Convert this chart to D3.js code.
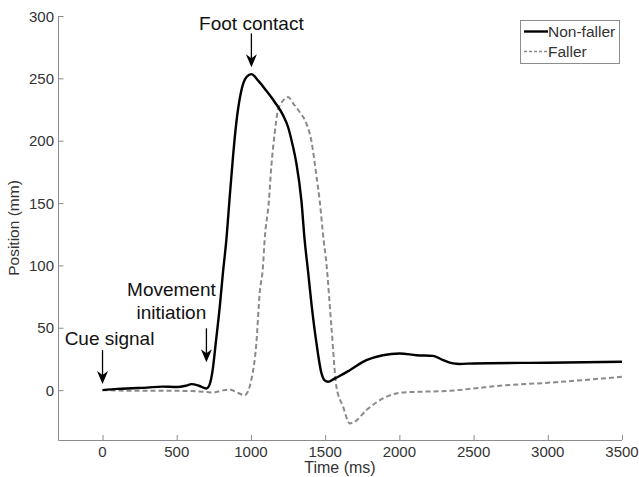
<!DOCTYPE html>
<html>
<head>
<meta charset="utf-8">
<script src="https://cdn.jsdelivr.net/npm/d3@7"></script>
<style>
  body { margin: 0; background: #fff; }
  text { font-family: "Liberation Sans", Arial, sans-serif; }
</style>
</head>
<body>
<svg id="chart" width="639" height="477"></svg>
<script>
// values
var nonFallerTime = [0, 100, 200, 300, 400, 500, 560, 600, 650, 700, 720, 742, 765, 790, 812, 834, 857, 879, 901, 935, 970, 1003, 1050, 1104, 1160, 1216, 1250, 1280, 1306, 1340, 1362, 1385, 1407, 1441, 1475, 1495, 1520, 1560, 1600, 1666, 1778, 1888, 2003, 2115, 2227, 2295, 2362, 2407, 2500, 3000, 3500];
var nonFallerPos = [0, 1, 1.5, 2, 2.8, 2.5, 3.5, 4.8, 3.5, 1.3, 4, 16, 40, 67, 95, 120, 155, 187, 214, 240, 251, 253.4, 248, 240, 231, 220.5, 211, 197, 182, 152, 120, 95, 70, 38, 13.6, 8, 6.7, 9, 11.5, 16, 24, 28, 29.4, 28, 27.5, 24, 21.4, 21, 21.4, 22, 22.7];

var fallerTime = [0, 200, 400, 600, 700, 744, 800, 856, 900, 957, 980, 1002, 1036, 1059, 1081, 1092, 1121, 1137, 1160, 1182, 1215, 1250, 1290, 1328, 1373, 1407, 1441, 1463, 1490, 1508, 1542, 1576, 1620, 1666, 1699, 1778, 1890, 2003, 2070, 2340, 2500, 2677, 3000, 3500];
var fallerPos = [0, -0.5, -0.5, -0.8, -1.5, -2, -0.5, 0.5, -1.5, -4, -1, 8, 37, 78, 99, 120, 152, 179, 206, 224.5, 232, 235, 229, 223, 214, 200, 172, 152, 120, 102, 51, 2.6, -13, -26.7, -25.4, -16, -6.7, -2.1, -1.6, -0.5, 1.3, 3.5, 5.9, 10.7];

var xTicks = [0, 500, 1000, 1500, 2000, 2500, 3000, 3500];
var yTicks = [0, 50, 100, 150, 200, 250, 300];

// annotations: label lines, time and value the arrow points at
var annotations = [
  { lines: ["Cue signal"], t: 0, v: 0 },
  { lines: ["Movement", "initiation"], t: 700, v: 17.5 },
  { lines: ["Foot contact"], t: 1003, v: 254 }
];
// per annotation: text x shift and gap between text and arrow
var annotShift = [7, -35, 0];
var annotGap = [5, 9, 3];

var svg = d3.select("#chart");

var x = d3.scaleLinear().domain([-300, 3500]).range([58, 622]);
var y = d3.scaleLinear().domain([-40, 300]).range([440, 16]);

var axisColor = "#8c8c8c";
var textColor = "#333";

// bottom axis (ticks pointing inward, matlab style)
var xAxis = svg.append("g")
  .attr("transform", "translate(0,440)")
  .call(d3.axisTop(x).tickValues(xTicks).tickSize(5).tickSizeOuter(0).tickFormat(""));
xAxis.select(".domain").attr("stroke", axisColor).attr("d", "M58.5,0.5H622");
xAxis.selectAll(".tick line").attr("stroke", axisColor);

svg.append("g").selectAll("text")
  .data(xTicks)
  .enter().append("text")
  .attr("x", function(d) { return x(d); })
  .attr("y", 457)
  .attr("text-anchor", "middle")
  .attr("font-size", 15)
  .attr("fill", textColor)
  .text(function(d) { return d; });

// left axis
var yAxis = svg.append("g")
  .attr("transform", "translate(58.5,0)")
  .call(d3.axisRight(y).tickValues(yTicks).tickSize(5).tickSizeOuter(0).tickFormat(""));
yAxis.select(".domain").attr("stroke", axisColor).attr("d", "M0,16V440.5");
yAxis.selectAll(".tick line").attr("stroke", axisColor);

svg.append("g").selectAll("text")
  .data(yTicks)
  .enter().append("text")
  .attr("x", 54)
  .attr("y", function(d) { return y(d) + 5.5; })
  .attr("text-anchor", "end")
  .attr("font-size", 15)
  .attr("fill", textColor)
  .text(function(d) { return d; });

// axis titles
svg.append("text")
  .attr("x", 340)
  .attr("y", 473)
  .attr("text-anchor", "middle")
  .attr("font-size", 16)
  .attr("fill", textColor)
  .text("Time (ms)");

svg.append("text")
  .attr("transform", "translate(19,228) rotate(-90)")
  .attr("text-anchor", "middle")
  .attr("font-size", 15.5)
  .attr("fill", textColor)
  .text("Position (mm)");

// the two curves
var line = d3.line()
  .x(function(d) { return x(d[0]); })
  .y(function(d) { return y(d[1]); })
  .curve(d3.curveMonotoneX);

svg.append("path")
  .datum(d3.zip(fallerTime, fallerPos))
  .attr("d", line)
  .attr("fill", "none")
  .attr("stroke", "#8a8a8a")
  .attr("stroke-width", 2)
  .attr("stroke-dasharray", "5,3");

svg.append("path")
  .datum(d3.zip(nonFallerTime, nonFallerPos))
  .attr("d", line)
  .attr("fill", "none")
  .attr("stroke", "#000")
  .attr("stroke-width", 2.4);

// arrows + labels
annotations.forEach(function(a, k) {
  var ax = x(a.t), tip = y(a.v) - 6;
  var top = tip - 34;
  svg.append("line")
    .attr("x1", ax).attr("x2", ax)
    .attr("y1", top).attr("y2", tip - 4)
    .attr("stroke", "#000").attr("stroke-width", 1.3);
  svg.append("path")
    .attr("d", "M" + ax + "," + tip + "L" + (ax - 5.5) + "," + (tip - 13) +
      "L" + ax + "," + (tip - 9) + "L" + (ax + 5.5) + "," + (tip - 13) + "Z")
    .attr("fill", "#000");
  var n = a.lines.length;
  a.lines.forEach(function(s, i) {
    svg.append("text")
      .attr("x", ax + annotShift[k])
      .attr("y", top - annotGap[k] - (n - 1 - i) * 23)
      .attr("text-anchor", "middle")
      .attr("font-size", 19)
      .attr("fill", "#111")
      .text(s);
  });
});

// legend
var legend = svg.append("g");
legend.append("rect")
  .attr("x", 520.5).attr("y", 20.5)
  .attr("width", 99).attr("height", 43)
  .attr("fill", "#fff").attr("stroke", axisColor);
var legendItems = [["Non-faller", "#000", 2.4, null], ["Faller", "#8a8a8a", 1.5, "3,2"]];
legendItems.forEach(function(d, i) {
  var ly = 31.5 + i * 20;
  legend.append("line")
    .attr("x1", 524).attr("x2", 548)
    .attr("y1", ly).attr("y2", ly)
    .attr("stroke", d[1]).attr("stroke-width", d[2])
    .attr("stroke-dasharray", d[3]);
  legend.append("text")
    .attr("x", 548).attr("y", ly + 5.5)
    .attr("font-size", 15.5)
    .attr("fill", textColor)
    .text(d[0]);
});
</script>
</body>
</html>
